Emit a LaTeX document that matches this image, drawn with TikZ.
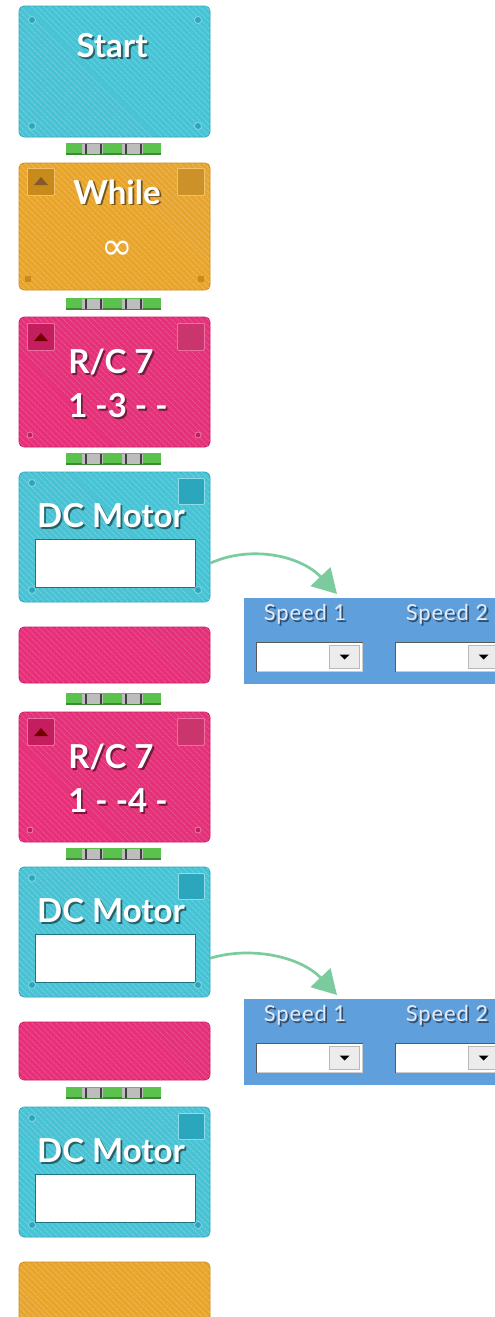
\documentclass[tikz,border=0pt]{standalone}
\usepackage{fontspec}
\setmainfont{Lato}
\newfontfamily\panelfont{Lato}[LetterSpace=4]
\newfontfamily\signfont{DejaVu Sans}
\usetikzlibrary{arrows.meta,patterns.meta}

\definecolor{cyanfill}{HTML}{47C3D5}
\definecolor{cyanedge}{HTML}{2BA6BC}
\definecolor{orangefill}{HTML}{E8A52E}
\definecolor{orangeedge}{HTML}{C98A1C}
\definecolor{pinkfill}{HTML}{E63079}
\definecolor{pinkedge}{HTML}{C41E5E}
\definecolor{panelblue}{HTML}{5F9FDB}
\definecolor{panelink}{HTML}{E2EAFB}
\definecolor{flowgreen}{HTML}{7CCB9E}
\definecolor{linkgreen}{HTML}{5BC24E}
\definecolor{linkgray}{HTML}{BDBDBD}

\tikzset{
  block/.style={rounded corners=5pt, inner sep=0pt, outer sep=0pt, anchor=north west,
    minimum width=191pt, line width=0.8pt},
  cyanblk/.style={fill=cyanfill, draw=cyanedge,
    postaction={pattern={Lines[angle=-45,distance=4pt,line width=1pt]}, pattern color=cyanfill!80!white}},
  orangeblk/.style={fill=orangefill, draw=orangeedge,
    postaction={pattern={Lines[angle=-45,distance=4pt,line width=1pt]}, pattern color=orangefill!80!white}},
  pinkblk/.style={fill=pinkfill, draw=pinkedge,
    postaction={pattern={Lines[angle=-45,distance=4pt,line width=1pt]}, pattern color=pinkfill!85!white}},
  btn/.style={anchor=north west, minimum size=27pt, inner sep=0pt, rounded corners=1pt, line width=0.8pt},
  dot/.style={draw=white, draw opacity=0.4, line width=0.8pt},
  dcbox/.style={anchor=north west, minimum width=160pt, minimum height=48pt, inner sep=0pt,
    fill=white, draw=cyanedge!70!black, line width=0.6pt},
  blktext/.style={text=white, font=\fontsize{33}{36}\selectfont\bfseries, inner sep=0pt},
  paneltext/.style={text=panelink, font=\panelfont\fontsize{22}{24}\selectfont, inner sep=0pt},
  shadowed/.style={text=black, text opacity=0.5},
  sign/.style={text=white, font=\signfont\fontsize{38}{40}\selectfont, inner sep=0pt},
  panel/.style={anchor=north west, minimum width=270pt, minimum height=86pt, inner sep=0pt, fill=panelblue},
  dropbox/.style={anchor=north west, minimum width=106pt, minimum height=29pt, inner sep=0pt,
    fill=white, draw=gray!40, line width=1pt},
  dropbtn/.style={anchor=east, minimum width=30pt, minimum height=23pt, inner sep=0pt,
    fill=gray!15, draw=gray!55, line width=0.8pt},
  flow/.style={draw=flowgreen, line width=2.7pt, -{Triangle[length=24pt,width=27pt]}},
}

% white text with a soft shadow below right
\newcommand{\embossed}[4][blktext]{%
  \node[#1, shadowed] (#2sh) at ([shift={(1.8pt,-1.8pt)}]#3) {#4};
  \node[#1] (#2) at (#3) {#4};}

\begin{document}
\begin{tikzpicture}[x=1pt, y=-1pt]

    \clip (0,0) rectangle (495,1317);
    \fill[white] (0,0) rectangle (495,1317);

    % Start block
    \node[block, cyanblk, minimum height=131pt] (start) at (19,6) {};
    \foreach \px/\py in {32/20, 198/20, 32/126, 198/126}
        \filldraw[dot, fill=cyanedge] (\px,\py) circle (3.5pt);
    \embossed{starttxt}{112,46}{Start}

    % While block
    \node[block, orangeblk, minimum height=127pt] (while) at (19,163) {};
    \node[btn, fill=orangeedge, draw=orangefill!70!white] (whileup) at (27,168) {};
    \fill[brown!70!black] (34,185) -- (48,185) -- (41,177) -- cycle;
    \node[btn, fill=orangefill!88!black, draw=orangefill!70!white] (whilebox) at (177,168) {};
    \embossed{whiletxt}{117,192}{While}
    \node[sign] (whileinf) at (117,250) {∞};
    \fill[orangeedge] (25,276) rectangle (31,282);
    \fill[orangeedge] (198,276) rectangle (204,282);

    % R/C blocks
    \foreach \n/\y/\code in {1/317/{1 -3 - -}, 2/712/{1 - -4 -}} {
        \node[block, pinkblk, minimum height=130pt] (rc\n) at (19,\y) {};
        \node[btn, fill=pinkedge, draw=pinkfill!70!white] (rcup\n) at (27,\y+6) {};
        \fill[red!45!black] (34,\y+24) -- (48,\y+24) -- (41,\y+16) -- cycle;
        \node[btn, fill=pinkedge!90!white, draw=pinkfill!70!white] (rcbox\n) at (177,\y+6) {};
        \embossed{rctxt\n}{111,\y+45}{R/C 7}
        \embossed{rccode\n}{118,\y+89}{\code}
        \filldraw[dot, fill=pinkedge] (30,\y+118) circle (3pt);
        \filldraw[dot, fill=pinkedge] (198,\y+118) circle (3pt);
    }

    % DC Motor blocks
    \foreach \n/\y in {1/472, 2/867, 3/1107} {
        \node[block, cyanblk, minimum height=130pt] (dcm\n) at (19,\y) {};
        \node[btn, fill=cyanedge, draw=cyanfill!60!white, minimum size=26pt] (dcbtn\n) at (178,\y+6) {};
        \node[dcbox] (dcbox\n) at (35,\y+67) {};
        \embossed{dctxt\n}{111,\y+44}{DC Motor}
        \foreach \px/\py in {32/11, 32/118, 198/118}
            \filldraw[dot, fill=cyanedge] (\px,\y+\py) circle (3.5pt);
    }

    % end pieces
    \node[block, pinkblk, minimum height=56pt] (rcend1) at (19,627) {};
    \node[block, pinkblk, minimum height=58pt] (rcend2) at (19,1022) {};
    \node[block, orangeblk, minimum height=62pt] (whileend) at (19,1262) {};

    % links between blocks
    \foreach \y in {143,298,453,693,848,1087} {
        \fill[linkgreen] (66,\y) rectangle (161,\y+12);
        \fill[linkgreen!70!black] (66,\y+10) rectangle (161,\y+12);
        \fill[linkgray] (82,\y+1) rectangle (103,\y+11);
        \fill[linkgray] (122,\y+1) rectangle (143,\y+11);
        \foreach \tx in {85,100,125,140}
            \fill[black!75] (\tx,\y+1) rectangle (\tx+2,\y+11);
    }

    % speed panels
    \foreach \n/\py in {1/598, 2/999} {
        \node[panel] (panel\n) at (244,\py) {};
        \embossed[paneltext]{speedA\n}{305,\py+16}{Speed 1}
        \embossed[paneltext]{speedB\n}{447,\py+16}{Speed 2}
        \node[dropbox] (dropA\n) at (256,\py+44) {};
        \node[dropbox] (dropB\n) at (395,\py+44) {};
        \draw[gray!70!black, line width=1pt] (dropA\n.south west) -- (dropA\n.north west) -- (dropA\n.north east);
        \draw[gray!70!black, line width=1pt] (dropB\n.south west) -- (dropB\n.north west) -- (dropB\n.north east);
        \node[dropbtn] (btnA\n) at ([xshift=-3pt]dropA\n.east) {};
        \node[dropbtn] (btnB\n) at ([xshift=-3pt]dropB\n.east) {};
        \fill (btnA\n.center) ++(-5pt,2.5pt) -- ++(10pt,0pt) -- ++(-5pt,-5pt) -- cycle;
        \fill (btnB\n.center) ++(-5pt,2.5pt) -- ++(10pt,0pt) -- ++(-5pt,-5pt) -- cycle;
        \coordinate (tip\n) at (337,\py-4);
        \draw[flow] (dcm\n.east |- dcbox\n.center) .. controls (250,\py-53) and (300,\py-43) .. (tip\n);
    }

\end{tikzpicture}
\end{document}
